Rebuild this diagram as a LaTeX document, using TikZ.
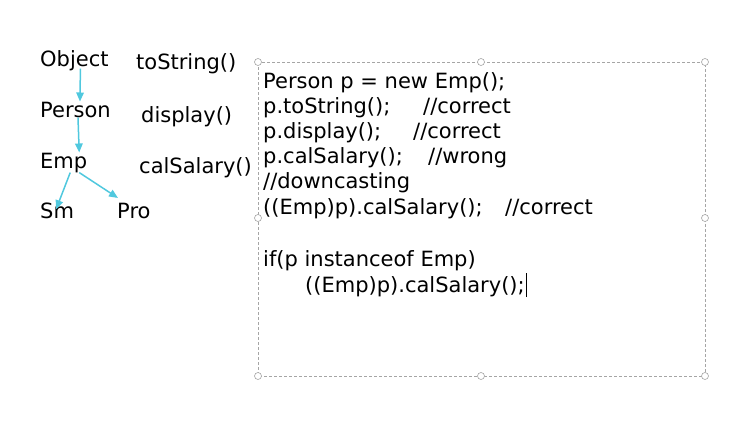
\documentclass[tikz,border=0pt]{standalone}
\usepackage{fontspec}
\setmainfont{DejaVu Sans}
\usetikzlibrary{positioning, arrows.meta}
\definecolor{arrowcyan}{RGB}{80,200,222}
\definecolor{framegray}{RGB}{165,165,165}
\tikzset{
	label/.style= {
		anchor=base west,
		inner sep=0,
		font=\fontsize{21}{25}\selectfont
	},
	code/.style= {
		label
	},
	inherit/.style= {
		arrowcyan,
		line width=1.5pt,
		-{Triangle[length=9pt, width=7.5pt]}
	},
	frame/.style= {
		framegray,
		densely dashed,
		line width=0.6pt
	},
	handle/.style= {
		circle,
		draw=framegray,
		fill=white,
		line width=0.6pt,
		minimum size=7pt,
		inner sep=0
	},
}

\begin{document}
\begin{tikzpicture}[x=1pt, y=-1pt]
	
	\useasboundingbox (0,0) rectangle (730,423);
	
	% class hierarchy
	\node (obj)[label] at (40,66) {Object};
	\node (per)[label] at (40,117) {Person};
	\node (emp)[label] at (40,168) {Emp};
	\node (sm)[label] at (40,218) {Sm};
	\node (pro)[label] at (117,218) {Pro};
	
	\node (tostr)[label] at (136,69) {toString()};
	\node (disp)[label] at (141,122) {display()};
	\node (calsal)[label] at (139,173) {calSalary()};
	
	\draw[inherit] ([xshift=6pt, yshift=2pt]obj.south) to ([xshift=4.5pt]per.north);
	\draw[inherit] ([xshift=2.5pt]per.south) to ([xshift=15.5pt]emp.north);
	\draw[inherit] ([xshift=6.5pt]emp.south) to ([xshift=-1pt, yshift=-7pt]sm.north);
	\draw[inherit] ([xshift=15.5pt]emp.south) to ([xshift=1pt, yshift=4.5pt]pro.north west);
	
	% selection frame
	\draw[frame] (258,62) rectangle (705,376);
	\foreach \x/\y [count=\i] in {258/62, 481/62, 705/62, 258/218, 705/218, 258/376, 481/376, 705/376}
	{
		\node (h\i)[handle] at (\x,\y) {};
	}
	
	% code lines
	\node (line1)[code] at (263,88) {Person p = new Emp();};
	\node (line2)[code] at (263,113) {p.toString();};
	\node (line3)[code] at (263,138) {p.display();};
	\node (line4)[code] at (263,163) {p.calSalary();};
	\node (line5)[code] at (263,188) {//downcasting};
	\node (line6)[code] at (263,214) {((Emp)p).calSalary();};
	\node (line7)[code] at (263,266) {if(p instanceof Emp)};
	\node (line8)[code] at (305,292) {((Emp)p).calSalary();};
	
	\node (cmt2)[code] at (423,113) {//correct};
	\node (cmt3)[code] at (413,138) {//correct};
	\node (cmt4)[code] at (428,163) {//wrong};
	\node (cmt6)[code] at (505,214) {//correct};
	
	% text cursor
	\coordinate (cursor) at ([xshift=1.5pt]line8.base east);
	\draw[line width=0.8pt] ([yshift=-5pt]cursor) -- ([yshift=19pt]cursor);
	
\end{tikzpicture}
\end{document}
